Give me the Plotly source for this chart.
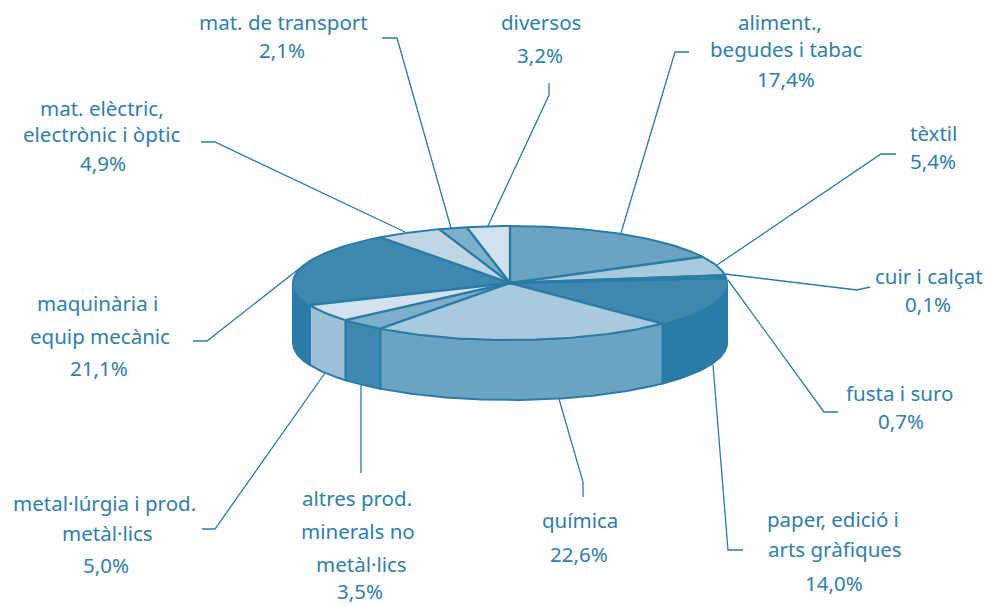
import numpy as np
import plotly.graph_objects as go

categories = ["aliment.", "tèxtil", "cuir i calçat", "fusta i suro", "paper", "química",
              "altres prod.", "metal·lúrgia", "maquinària", "mat. elèctric", "mat. de transport", "diversos"]
values = [17.4, 5.4, 0.1, 0.7, 14.0, 22.6, 3.5, 5.0, 21.1, 4.9, 2.1, 3.2]
top_colors = ["#6BA4C3", "#A9CADC", "#A9CADC", "#A9CADC", "#3F88B0", "#A9CADC",
              "#7FB0CB", "#D3E3EE", "#3F88B0", "#C0D6E4", "#7FB0CB", "#D3E3EE"]
side_colors = ["#6BA4C3", "#A9CADC", "#A9CADC", "#A9CADC", "#2A7CA6", "#6BA4C3",
               "#3F88B0", "#9DC1D7", "#2A7CA6", "#C0D6E4", "#7FB0CB", "#D3E3EE"]
LINE = "#2A7CA6"
TEXT = "#2F80AA"
CX, CY, RX, RY, DEPTH = 510, 283, 217, 57, 60

label_lines = [
    ("mat. de transport", 283, 22), ("2,1%", 282, 50),
    ("mat. elèctric,", 102, 108), ("electrònic i òptic", 102, 134), ("4,9%", 103, 163),
    ("diversos", 541, 22), ("3,2%", 540, 55),
    ("aliment.,", 780, 22), ("begudes i tabac", 786, 49), ("17,4%", 786, 79),
    ("tèxtil", 933, 133), ("5,4%", 933, 161),
    ("cuir i calçat", 929, 276), ("0,1%", 928, 304),
    ("fusta i suro", 899, 393), ("0,7%", 901, 421),
    ("paper, edició i", 833, 519), ("arts gràfiques", 835, 549), ("14,0%", 834, 583),
    ("química", 580, 520), ("22,6%", 579, 554),
    ("altres prod.", 357, 498), ("minerals no", 358, 531), ("metàl·lics", 361, 564), ("3,5%", 360, 591),
    ("metal·lúrgia i prod.", 104, 503), ("metàl·lics", 107, 533), ("5,0%", 106, 565),
    ("maquinària i", 97, 303), ("equip mecànic", 100, 336), ("21,1%", 99, 368),
]
leaders = [
    [(689, 52), (675, 52), (621, 233)],
    [(896, 154), (881, 154), (717, 265)],
    [(870, 287), (857, 290), (725, 274)],
    [(838, 412), (824, 412), (728, 280)],
    [(743, 550), (728, 550), (713, 365)],
    [(559, 399), (583, 482), (583, 497)],
    [(361, 385), (361, 473)],
    [(202, 529), (215, 529), (325, 373)],
    [(193, 341), (207, 341), (300, 268)],
    [(201, 142), (215, 142), (405, 232)],
    [(382, 38), (397, 38), (451, 228)],
    [(549, 83), (549, 95), (487, 228)],
]

fig = go.Figure()

for pts in leaders:
    fig.add_trace(go.Scatter(x=[p[0] for p in pts], y=[p[1] for p in pts], mode="lines",
                             line=dict(color=LINE, width=1.3), hoverinfo="skip"))

edges = np.concatenate([[0], np.cumsum(values)]) / sum(values) * 2 * np.pi


def arc(a, b):
    t = np.linspace(a, b, max(2, int((b - a) * 60)))
    return CX + RX * np.sin(t), CY - RY * np.cos(t)


# side walls (only the part of the rim facing the viewer)
for i, val in enumerate(values):
    a, b = max(edges[i], np.pi / 2), min(edges[i + 1], 3 * np.pi / 2)
    if b <= a:
        continue
    x, y = arc(a, b)
    px = np.concatenate([x, x[::-1], x[:1]])
    py = np.concatenate([y, y[::-1] + DEPTH, y[:1]])
    fig.add_trace(go.Scatter(x=px, y=py, mode="lines", fill="toself", fillcolor=side_colors[i],
                             line=dict(color=LINE, width=2), hoverinfo="skip"))

# top slices: fill first, outlines after
for i, val in enumerate(values):
    x, y = arc(edges[i], edges[i + 1])
    px = np.concatenate([[CX], x, [CX]])
    py = np.concatenate([[CY], y, [CY]])
    fig.add_trace(go.Scatter(x=px, y=py, mode="lines", fill="toself", fillcolor=top_colors[i],
                             line=dict(width=0), hoverinfo="skip"))

for i, val in enumerate(values):
    a, b = edges[i], edges[i + 1]
    if side_colors[i] == LINE:
        # the dark walls meet their slice with no drawn rim
        spans = [(s, e) for s, e in [(a, min(b, np.pi / 2)), (max(a, 3 * np.pi / 2), b)] if e > s]
    else:
        spans = [(a, b)]
    for s, e in spans:
        x, y = arc(s, e)
        fig.add_trace(go.Scatter(x=x, y=y, mode="lines", line=dict(color=LINE, width=2), hoverinfo="skip"))
    ex, ey = arc(a, a + 1e-6)
    fig.add_trace(go.Scatter(x=[CX, ex[0]], y=[CY, ey[0]], mode="lines",
                             line=dict(color=LINE, width=2.4), hoverinfo="skip"))

for text, x, y in label_lines:
    fig.add_annotation(x=x, y=y, text=text, showarrow=False, xanchor="center", yanchor="middle",
                       font=dict(family="Noto Sans", size=20.5, color=TEXT))

fig.update_layout(
    width=985, height=606, margin=dict(l=0, r=0, t=0, b=0), showlegend=False,
    paper_bgcolor="white", plot_bgcolor="white",
    xaxis=dict(range=[0, 985], visible=False, fixedrange=True),
    yaxis=dict(range=[606, 0], visible=False, fixedrange=True),
)
fig.write_html("out.html", config={"displayModeBar": False},
               post_script="document.body.style.margin='0';document.body.style.overflow='hidden';")
